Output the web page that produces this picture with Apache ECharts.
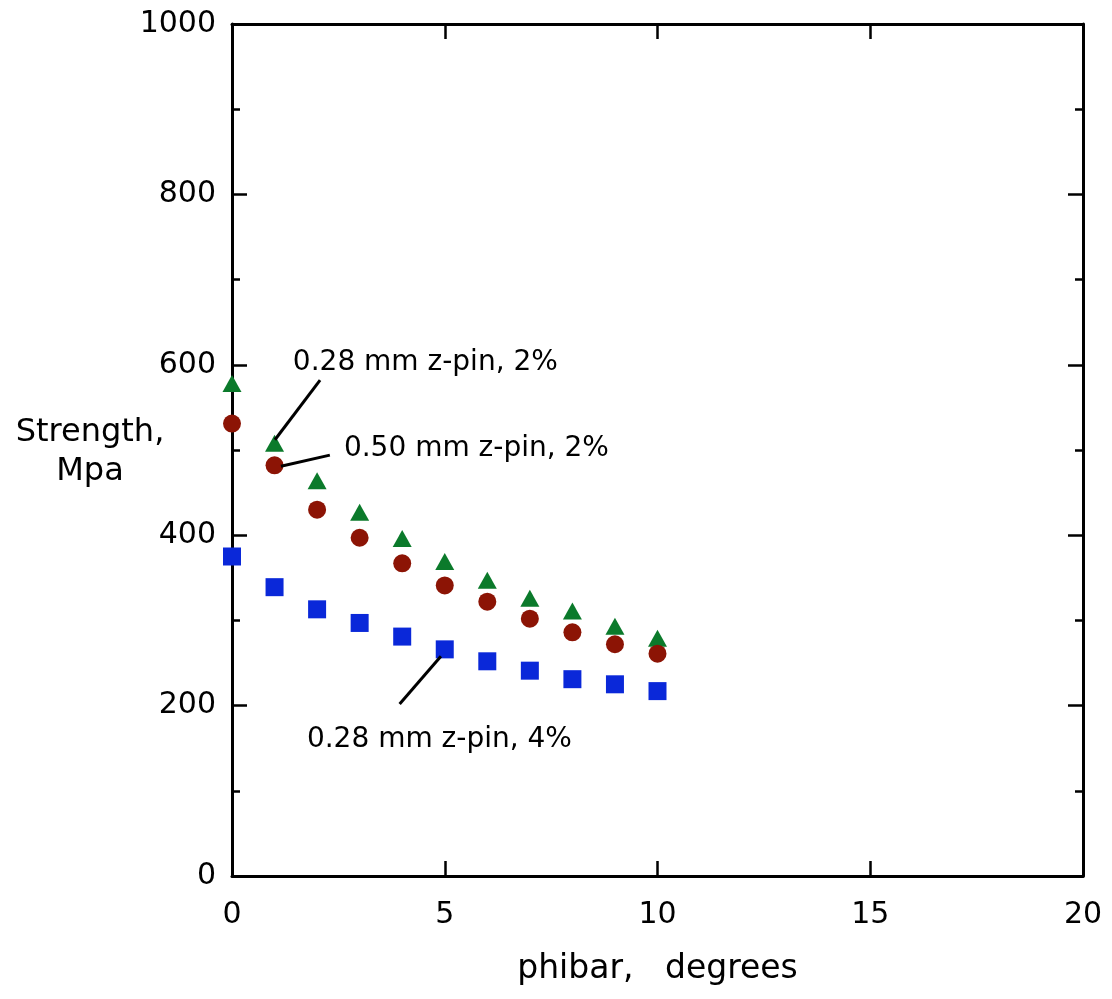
<!DOCTYPE html>
<html>
<head>
<meta charset="utf-8">
<script src="https://cdn.jsdelivr.net/npm/echarts@6/dist/echarts.min.js"></script>
<style>html,body{margin:0;padding:0;background:#fff}#c{width:1112px;height:999px}</style>
</head>
<body>
<div id="c"></div>
<script>
// ---- data ----
const phibar = [0, 1, 2, 3, 4, 5, 6, 7, 8, 9, 10];
const pin028_2 = [578, 508, 464, 427, 396, 369, 347, 326, 311, 293, 279];
const pin050_2 = [531, 482, 430, 397, 367, 341, 322, 302, 286, 272, 261];
const pin028_4 = [375, 339, 313, 297, 281, 266, 252, 241, 231, 225, 217];
const seriesNames = ['0.28 mm z-pin, 2%', '0.50 mm z-pin, 2%', '0.28 mm z-pin, 4%'];
// annotation leader lines: [x1, y1, x2, y2] in data units
const leaders = [
  [1.01, 512, 2.07, 582],
  [1.15, 481, 2.30, 494],
  [3.94, 202, 4.91, 258]
];
// annotation text anchors (left edge, vertical middle) in data units
const labelPos = [[1.43, 603], [2.63, 501], [1.76, 160]];
const xTicks = [0, 5, 10, 15, 20];
const yTicks = [0, 200, 400, 600, 800, 1000];
const xTitle = 'phibar,   degrees';
const yTitle = 'Strength,\nMpa';

const FONT = 'DejaVu Sans';
const chart = echarts.init(document.getElementById('c'), null, {renderer: 'canvas'});

function pairs(ys) { return phibar.map((x, i) => [x, ys[i]]); }

const axisLineStyle = {show: true, onZero: false, lineStyle: {color: '#000', width: 3}};
const xCommon = {
  type: 'value', min: xTicks[0], max: xTicks[xTicks.length - 1], interval: 5,
  axisLine: axisLineStyle, splitLine: {show: false},
  axisTick: {show: true, inside: true, length: 15, lineStyle: {color: '#000', width: 2.5}},
  minorTick: {show: false}
};
const yCommon = {
  type: 'value', min: yTicks[0], max: yTicks[yTicks.length - 1], interval: 200,
  axisLine: axisLineStyle, splitLine: {show: false},
  axisTick: {show: true, inside: true, length: 15, lineStyle: {color: '#000', width: 2.5}},
  minorTick: {show: true, splitNumber: 2, length: 8, lineStyle: {color: '#000', width: 2.5}}
};

const option = {
  animation: false,
  backgroundColor: '#fff',
  grid: {left: 232, right: 29, top: 24, bottom: 123, containLabel: false},
  xAxis: [
    Object.assign({}, xCommon, {
      position: 'bottom',
      axisLabel: {show: true, color: '#000', fontFamily: FONT, fontSize: 30, margin: 24,
                  formatter: v => String(v)},
      name: xTitle, nameLocation: 'middle', nameGap: 77,
      nameTextStyle: {color: '#000', fontFamily: FONT, fontSize: 33}
    }),
    Object.assign({}, xCommon, {position: 'top', axisLabel: {show: false}})
  ],
  yAxis: [
    Object.assign({}, yCommon, {
      position: 'left',
      axisLabel: {show: true, color: '#000', fontFamily: FONT, fontSize: 30, margin: 16,
                  formatter: v => String(v)}
    }),
    Object.assign({}, yCommon, {position: 'right', axisLabel: {show: false}})
  ],
  graphic: [{
    type: 'text', x: 90, y: 413,
    style: {text: yTitle, fill: '#000', font: '32px "DejaVu Sans"', lineHeight: 39,
            align: 'center', verticalAlign: 'top'}
  }],
  series: [
    {
      name: seriesNames[0], type: 'scatter', symbol: 'triangle', symbolSize: [19, 17],
      itemStyle: {color: '#0b7a2b', opacity: 1}, data: pairs(pin028_2), z: 3
    },
    {
      name: seriesNames[1], type: 'scatter', symbol: 'circle', symbolSize: 18,
      itemStyle: {color: '#8c1405', opacity: 1}, data: pairs(pin050_2), z: 3
    },
    {
      name: seriesNames[2], type: 'scatter', symbol: 'rect', symbolSize: 18,
      itemStyle: {color: '#0a28d9', opacity: 1}, data: pairs(pin028_4), z: 3
    },
    {
      name: 'annotations', type: 'scatter', symbolSize: 0, silent: true, z: 4,
      itemStyle: {opacity: 1},
      data: labelPos.map((p, i) => ({value: p, name: seriesNames[i]})),
      label: {
        show: true, position: 'right', distance: 0, formatter: '{b}',
        color: '#000', fontFamily: FONT, fontSize: 28, align: 'left', verticalAlign: 'middle'
      },
      markLine: {
        silent: true, symbol: ['none', 'none'], animation: false,
        lineStyle: {color: '#000', width: 3, type: 'solid', opacity: 1},
        label: {show: false},
        emphasis: {disabled: true},
        data: leaders.map(l => [{coord: [l[0], l[1]]}, {coord: [l[2], l[3]]}])
      }
    }
  ]
};
chart.setOption(option);
</script>
</body>
</html>
